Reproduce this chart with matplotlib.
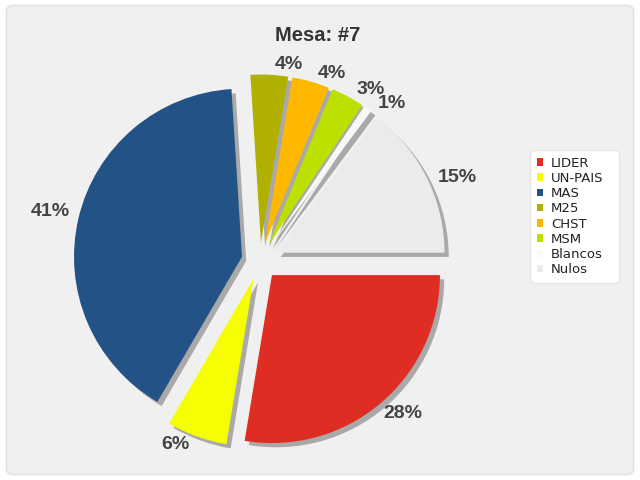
import numpy as np
import matplotlib
matplotlib.use("Agg")
import matplotlib.pyplot as plt
from matplotlib.patches import FancyBboxPatch
from matplotlib.transforms import IdentityTransform

# datos de la mesa (porcentajes)
partidos = ["LIDER", "UN-PAIS", "MAS", "M25", "CHST", "MSM", "Blancos", "Nulos"]
valores = [27.6, 5.8, 40.6, 3.6, 3.6, 3.2, 0.8, 14.8]
colores = ["#e02d24", "#f5ff00", "#235287", "#b0b000", "#ffb800", "#bee000", "#f8f8f8", "#ebebeb"]
titulo = "Mesa: #7"

fig = plt.figure(figsize=(6.4, 4.8), dpi=100)
fig.patch.set_facecolor("white")

# fondo gris redondeado
fondo = FancyBboxPatch((6.5, 5.5), 627, 469, boxstyle="round,pad=0,rounding_size=6",
                       transform=IdentityTransform(), fc="#f0f0f0", ec="#e2e2e2", lw=1, zorder=-10)
fig.patches.append(fondo)

ax = fig.add_axes([0, 0, 1, 1])
R = 168.0
wedges, _ = ax.pie(valores, colors=colores, startangle=0, counterclock=False,
                   explode=[0.11] * len(valores), radius=1,
                   wedgeprops=dict(linewidth=0),
                   shadow={"ox": 0.018, "oy": -0.018, "facecolor": "#a9a9a9",
                           "edgecolor": "none", "alpha": 1})
ax.set_xlim(-260 / R, 380 / R)
ax.set_ylim(-219 / R, 261 / R)
ax.set_aspect("auto")
ax.axis("off")

# etiquetas de porcentaje: ancladas por el lado cercano al pastel
total = sum(valores)
for w, v in zip(wedges, valores):
    ang = np.deg2rad((w.theta1 + w.theta2) / 2 - 1.5)
    cx, cy = w.center
    d = 1.06
    ha = "left" if np.cos(ang) >= 0 else "right"
    ax.text(cx + d * np.cos(ang), cy + d * np.sin(ang), f"{v / total * 100:.0f}%",
            ha=ha, va="center", fontsize=14, fontweight="bold", color="#444444",
            family=["Liberation Sans", "DejaVu Sans"])

fig.text(318 / 640, 1 - 40.7 / 480, titulo, ha="center", va="baseline", fontsize=14.5,
         fontweight="bold", color="#333333", family=["Liberation Sans", "DejaVu Sans"])

leg = fig.legend(wedges, partidos, loc="upper left",
                 bbox_to_anchor=(530 / 640, 1 - 280 / 480, 89 / 640, 130 / 480), mode="expand",
                 frameon=True, fancybox=True, framealpha=1, facecolor="white",
                 edgecolor="#e6e6e6", prop={"family": "DejaVu Sans", "size": 9.5},
                 handlelength=0.5, handleheight=0.5, handletextpad=0.6,
                 labelspacing=0.17, borderpad=0.5, borderaxespad=0)
leg.get_frame().set_boxstyle("round,pad=0,rounding_size=0.4")
for t in leg.get_texts():
    t.set_color("#222222")

fig.savefig("out.png", dpi=100, facecolor=fig.get_facecolor())
